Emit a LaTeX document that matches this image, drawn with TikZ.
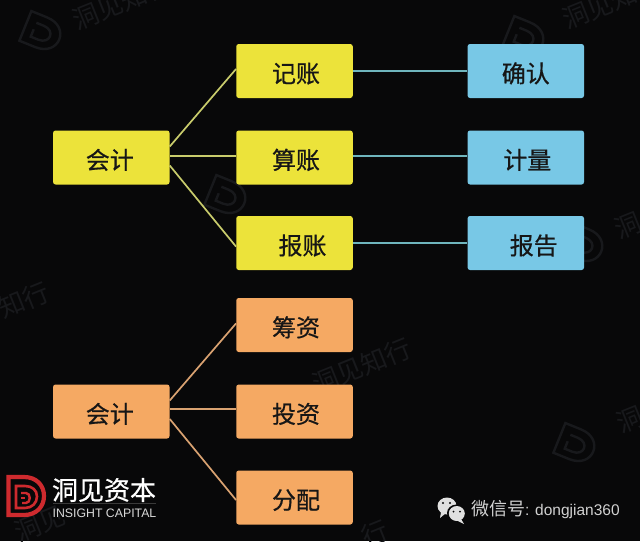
\documentclass[tikz,border=0pt]{standalone}
\usepackage{fontspec}
\setmainfont{Liberation Sans}
\newfontfamily\cjk[FakeBold=0.6]{Noto Sans CJK SC}
\newfontfamily\cjkplain{Noto Sans CJK SC}
\definecolor{bgc}{HTML}{080809}
\definecolor{wmc}{HTML}{18191C}
\definecolor{yel}{HTML}{ECE33A}
\definecolor{blu}{HTML}{78C8E6}
\definecolor{org}{HTML}{F5A963}
\definecolor{yline}{HTML}{C9CC6C}
\definecolor{bline}{HTML}{6FB5BD}
\definecolor{oline}{HTML}{D9A271}
\definecolor{logored}{HTML}{CE2A2E}
\definecolor{txtc}{HTML}{161616}
\newcommand{\boxlabel}[2]{\hspace*{#1pt}\raisebox{-11.5pt}[10pt][10pt]{#2}}
\newcommand{\wmlogo}[2]{%
  \begin{scope}[shift={(#1,#2)},rotate=-22,wmc,line width=2.4pt]
    \draw (-19,-16) -- (-19,16) -- (-2,16) .. controls (24,16) and (24,-16) .. (-2,-16) -- cycle;
    \draw (-10,-7) -- (-2,-7) .. controls (11,-7) and (11,8) .. (-2,8) -- (-10,8) -- (-10,0);
  \end{scope}}
\tikzset{
  bx/.style={rounded corners=2.5pt,minimum width=116.5pt,minimum height=54pt,inner sep=0pt,text=txtc,font=\cjk\fontsize{24}{24}\selectfont},
  yb/.style={bx,fill=yel},
  bb/.style={bx,fill=blu},
  ob/.style={bx,fill=org},
  yl/.style={yline,line width=1.7pt},
  bl/.style={bline,line width=2pt},
  ol/.style={oline,line width=1.7pt},
  wm/.style={text=wmc,font=\cjkplain\fontsize{26}{26}\selectfont,inner sep=0pt,rotate=22}
}
\begin{document}
\begin{tikzpicture}[x=1pt,y=-1pt]
\useasboundingbox (0,0) rectangle (640,541);
\fill[bgc] (0,0) rectangle (640,541);
\begin{scope}
\clip (0,0) rectangle (640,541);
% watermarks
\wmlogo{43}{33}
\node[wm] (w1) at (122,2) {洞见知行};
\wmlogo{526}{38}
\node[wm] (w2) at (600,6) {洞见知};
\wmlogo{228}{197}
\wmlogo{585}{245}
\node[wm] (w3) at (628,226) {洞};
\node[wm] (w4) at (24,300) {知行};
\node[wm] (w5) at (362,366) {洞见知行};
\wmlogo{577}{445}
\node[wm] (w6) at (630,420) {洞};
\node[wm] (w7) at (40,524) {洞见};
\node[wm] (w8) at (375,533) {行};
\end{scope}
% nodes
\node[yb] (a) at (111.3,157.5) {\boxlabel{-3}{会计}};
\node[yb] (a1) at (294.5,71) {\boxlabel{3}{记账}};
\node[yb] (a2) at (294.5,157.5) {\boxlabel{3}{算账}};
\node[yb] (a3) at (294.5,243) {\boxlabel{16}{报账}};
\node[bb] (b1) at (525.8,71) {\boxlabel{0}{确认}};
\node[bb] (b2) at (525.8,157.5) {\boxlabel{3}{计量}};
\node[bb] (b3) at (525.8,243) {\boxlabel{16}{报告}};
\node[ob] (c) at (111.3,411.5) {\boxlabel{-3}{会计}};
\node[ob] (c1) at (294.5,325) {\boxlabel{3}{筹资}};
\node[ob] (c2) at (294.5,411.5) {\boxlabel{3}{投资}};
\node[ob] (c3) at (294.5,497.5) {\boxlabel{3}{分配}};
% connectors
\draw[yl] ([yshift=11pt]a.east) -- ([yshift=2pt]a1.west);
\draw[yl] ([yshift=1.5pt]a.east) -- ([yshift=1.5pt]a2.west);
\draw[yl] ([yshift=-8pt]a.east) -- ([yshift=-3.6pt]a3.west);
\draw[bl] (a1.east) -- (b1.west);
\draw[bl] ([yshift=1.5pt]a2.east) -- ([yshift=1.5pt]b2.west);
\draw[bl] (a3.east) -- (b3.west);
\draw[ol] ([yshift=11pt]c.east) -- ([yshift=1.6pt]c1.west);
\draw[ol] ([yshift=2.2pt]c.east) -- ([yshift=2.2pt]c2.west);
\draw[ol] ([yshift=-7.5pt]c.east) -- ([yshift=-2.5pt]c3.west);
% logo
\begin{scope}[logored,line join=miter]
  \draw[line width=4.2pt] (8.5,477) -- (8.5,515) -- (24,515) .. controls (36,515) and (44,507) .. (44,496) .. controls (44,485) and (36,477) .. (24,477) -- cycle;
  \draw[line width=2.6pt] (16,486) -- (25,486) .. controls (32,486) and (37,490) .. (37,496.5) .. controls (37,503) and (32,508) .. (25,508) -- (16,508) -- cycle;
  \draw[line width=2.4pt] (21,493) -- (26,493) .. controls (31,493) and (31,503) .. (26,503) -- (22,503);
  \draw[line width=2.2pt] (21,498) -- (25,498);
\end{scope}
\node[text=white,inner sep=0pt,anchor=center,font=\cjk\fontsize{26}{26}\selectfont] (lt) at (104,490) {洞见资本};
\draw[gray!45!black,line width=0.4pt] (53,503.5) -- (156,503.5);
\node[text=white!85!black,inner sep=0pt,font=\fontsize{12.3}{12.3}\selectfont] (ls) at (104.5,513) {INSIGHT CAPITAL};
% wechat
\begin{scope}
  \fill[white!88!black] (447,506) ellipse (9.5pt and 8.5pt);
  \fill[white!88!black] (441,512) -- (440,518) -- (446,513) -- cycle;
  \fill[bgc] (456.5,513) ellipse (9.5pt and 8.5pt);
  \fill[white!88!black] (456.8,513.5) ellipse (8pt and 7.5pt);
  \fill[white!88!black] (461,519) -- (464,524) -- (456,520) -- cycle;
  \fill[bgc] (443,503) circle (1.1pt) (450,503) circle (1.1pt) (453.5,511.5) circle (1pt) (460,511.5) circle (1pt);
\end{scope}
\node[text=white!82!black,inner sep=0pt,anchor=west,font=\fontsize{15.5}{16}\selectfont] (wx) at (471,510) {{\cjkplain\fontsize{18}{18}\selectfont 微信号}: dongjian360};
\end{tikzpicture}
\end{document}
